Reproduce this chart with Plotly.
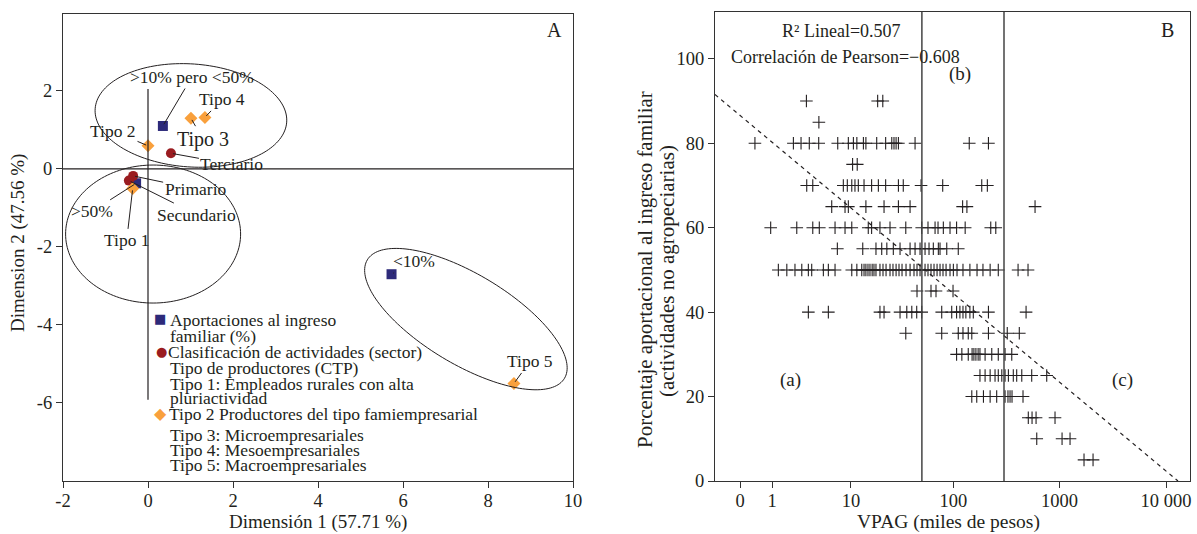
import math
import plotly.graph_objects as go

W, H = 1197, 534

# ---------------- Panel A data (correspondence analysis) ----------------
aport_names = [">10% pero <50%", ">50%", "<10%"]
aport_dim1 = [0.35, -0.28, 5.73]
aport_dim2 = [1.10, -0.37, -2.70]

sector_names = ["Terciario", "Primario", "Secundario"]
sector_dim1 = [0.54, -0.35, -0.45]
sector_dim2 = [0.40, -0.18, -0.30]

tipo_names = ["Tipo 1", "Tipo 2", "Tipo 3", "Tipo 4", "Tipo 5"]
tipo_dim1 = [-0.36, 0.0, 1.01, 1.34, 8.61]
tipo_dim2 = [-0.50, 0.59, 1.30, 1.32, -5.50]

xA_tickvals = [-2, 0, 2, 4, 6, 8, 10]
xA_ticktext = ["-2", "0", "2", "4", "6", "8", "10"]
yA_tickvals = [-6, -4, -2, 0, 2]
yA_ticktext = ["-6", "-4", "-2", "0", "2"]

legend_lines = [
    "Aportaciones al ingreso",
    "familiar (%)",
    "Clasificación de actividades (sector)",
    "Tipo de productores (CTP)",
    "Tipo 1: Empleados rurales con alta",
    "pluriactividad",
    "Tipo 2 Productores del tipo famiempresarial",
    "Tipo 3: Microempresariales",
    "Tipo 4: Mesoempresariales",
    "Tipo 5: Macroempresariales",
]

# ---------------- Panel B data (VPAG in miles de pesos, % aportación) ----------------
vpag_90 = [3.2, 18.6, 20.9]
vpag_85 = [4.5]
vpag_80 = [0.38, 2.17, 2.74, 3.47, 4.48, 7.27, 9.40, 10.6, 11.5, 13.4, 14.2, 18.2, 22.3,
           25.6, 26.9, 28.2, 29.7, 43.0, 141, 214]
vpag_75 = [10.4, 11.6]
vpag_70 = [3.23, 3.82, 8.33, 9.17, 10.2, 11.0, 11.9, 13.6, 16.2, 18.9, 22.3, 29.7, 33.1,
           49.1, 79.0, 185, 209]
vpag_65 = [6.26, 8.68, 9.40, 14.2, 21.5, 29.7, 38.5, 122, 134, 588]
vpag_60 = [0.94, 2.41, 3.82, 4.55, 6.80, 8.68, 10.2, 15.0, 16.2, 19.6, 24.6, 35.0, 49.8,
           57.2, 66.8, 71.3, 80.1, 92.7, 107, 129, 225, 251]
vpag_55 = [7.20, 13.2, 17.9, 20.4, 22.9, 26.5, 30.8, 38.5, 43.0, 48.0, 53.6, 58.5, 64.3,
           71.8, 74.5, 86.3, 111]
vpag_50 = [1.29, 1.75, 2.28, 2.80, 3.38, 3.71, 5.06, 5.75, 6.80, 10.2, 11.5, 12.9, 13.6,
           14.2, 14.9, 15.6, 16.4, 17.1, 17.9, 19.6, 21.0, 22.5, 24.6, 26.3, 28.2, 30.1,
           32.2, 35.2, 38.5, 42.0, 44.9, 48.0, 53.6, 57.2, 61.1, 65.3, 69.8, 74.5, 79.5,
           85.0, 92.7, 99.7, 108, 123, 143, 167, 190, 222, 265, 407, 505]
vpag_45 = [44.9, 61.1, 68.2, 99]
vpag_40 = [3.38, 5.75, 19.6, 21.5, 30.8, 35.8, 40.0, 44.6, 49.8, 77.3, 96.2, 107, 115,
           123, 131, 143, 154, 214, 484]
vpag_35 = [35.0, 77.3, 111, 123, 138, 149, 214, 322, 418]
vpag_30 = [107, 120, 138, 150, 156, 163, 171, 178, 199, 230, 265, 307, 355]
vpag_25 = [178, 199, 222, 247, 265, 286, 307, 330, 367, 395, 441, 547, 757]
vpag_20 = [149, 166, 192, 222, 256, 307, 327, 342, 357, 453]
vpag_15 = [508, 551, 601, 906]
vpag_10 = [610, 1055, 1254]
vpag_5 = [1697, 2063]

pct_levels = [90, 85, 80, 75, 70, 65, 60, 55, 50, 45, 40, 35, 30, 25, 20, 15, 10, 5]
vpag_by_level = [vpag_90, vpag_85, vpag_80, vpag_75, vpag_70, vpag_65, vpag_60, vpag_55,
                 vpag_50, vpag_45, vpag_40, vpag_35, vpag_30, vpag_25, vpag_20, vpag_15,
                 vpag_10, vpag_5]

fit_r2 = 0.507
pearson_r = -0.608
fit_intercept = 86.6      # % at log10(VPAG+1) = 0
fit_slope = -21.06        # % per decade of (VPAG+1)
vpag_cuts = [50, 300]

xB_tickvals_vpag = [0, 1, 10, 100, 1000, 10000]
xB_ticktext = ["0", "1", "10", "100", "1000", "10 000"]
yB_tickvals = [0, 20, 40, 60, 80, 100]

# ---------------- Layout geometry ----------------
A_left, A_right, A_top, A_bottom = 63, 573, 14, 481
B_left, B_right, B_top, B_bottom = 715, 1190, 12, 481
A_xrange = [-2, 10]
A_yrange = [-8.0, 3.97]
B_xrange_log = [-0.235, 4.225]
B_yrange = [0, 111.1]

FONT = "Liberation Serif, Times New Roman, serif"
INK = "#231f20"
NAVY = "#2d2a7a"
DRED = "#9a1c20"
ORANGE = "#f9a03c"


def px(x, y):
    return x / W, 1 - y / H


fig = go.Figure()

# Panel A markers
fig.add_trace(go.Scatter(x=aport_dim1, y=aport_dim2, mode="markers", xaxis="x", yaxis="y",
                         marker=dict(symbol="square", size=10, color=NAVY), showlegend=False))
fig.add_trace(go.Scatter(x=sector_dim1, y=sector_dim2, mode="markers", xaxis="x", yaxis="y",
                         marker=dict(symbol="circle", size=10, color=DRED), showlegend=False))
fig.add_trace(go.Scatter(x=tipo_dim1, y=tipo_dim2, mode="markers", xaxis="x", yaxis="y",
                         marker=dict(symbol="diamond", size=10, color=ORANGE), showlegend=False))

# Panel B scatter
xs, ys = [], []
for lvl, row in zip(pct_levels, vpag_by_level):
    for v in row:
        xs.append(v + 1)
        ys.append(lvl)
fig.add_trace(go.Scatter(x=xs, y=ys, mode="markers", xaxis="x2", yaxis="y2",
                         marker=dict(symbol="cross-thin", size=9, color=INK,
                                     line=dict(width=1.1, color=INK)),
                         showlegend=False))

# Regression line
L0 = B_xrange_log[0]
L1 = -fit_intercept / fit_slope
fig.add_trace(go.Scatter(x=[10 ** L0, 10 ** L1],
                         y=[fit_intercept + fit_slope * L0, fit_intercept + fit_slope * L1],
                         mode="lines", xaxis="x2", yaxis="y2",
                         line=dict(color=INK, width=1.2, dash="4px,4px"), showlegend=False))

# Cut lines
for c in vpag_cuts:
    fig.add_trace(go.Scatter(x=[c + 1, c + 1], y=B_yrange, mode="lines", xaxis="x2", yaxis="y2",
                             line=dict(color="#444", width=1.5), showlegend=False))

# ---------------- Shapes for panel A ----------------
sxA = (A_right - A_left) / (A_xrange[1] - A_xrange[0])
syA = (A_bottom - A_top) / (A_yrange[1] - A_yrange[0])


def ellipse_path(cx, cy, a_px, b_px, ang_deg, n=160):
    t = math.radians(ang_deg)
    pts = []
    for i in range(n + 1):
        u = 2 * math.pi * i / n
        dx = a_px * math.cos(u) * math.cos(t) - b_px * math.sin(u) * math.sin(t)
        dy = a_px * math.cos(u) * math.sin(t) + b_px * math.sin(u) * math.cos(t)
        pts.append((cx + dx / sxA, cy + dy / syA))
    return "M " + " L ".join(f"{x:.4f},{y:.4f}" for x, y in pts) + " Z"


shapes = [
    dict(type="line", xref="x", yref="y", x0=A_xrange[0], x1=A_xrange[1], y0=0, y1=0,
         line=dict(color=INK, width=1.2)),
    dict(type="line", xref="x", yref="y", x0=0, x1=0, y0=-5.92, y1=2.05,
         line=dict(color=INK, width=1.2)),
    dict(type="path", xref="x", yref="y", path=ellipse_path(1.01, 1.37, 96, 51.5, -4),
         line=dict(color=INK, width=1)),
    dict(type="path", xref="x", yref="y", path=ellipse_path(0.12, -1.67, 87.5, 69, 0),
         line=dict(color=INK, width=1)),
    dict(type="path", xref="x", yref="y", path=ellipse_path(7.48, -3.85, 115, 45, -31),
         line=dict(color=INK, width=1)),
]

# ---------------- Annotations ----------------
ann = []
label_offsets_aport = [(29, -49), (-44, 28), (22, -13)]
label_offsets_sector = [(61, 11), (62, 13), (68, 34)]
label_offsets_tipo = [(-6, 52), (-35, -15), (12, 21), (17, -18), (16, -22)]

for names, xs_, ys_, offs in [(aport_names, aport_dim1, aport_dim2, label_offsets_aport),
                              (sector_names, sector_dim1, sector_dim2, label_offsets_sector),
                              (tipo_names, tipo_dim1, tipo_dim2, label_offsets_tipo)]:
    for nm, x, y, (ax, ay) in zip(names, xs_, ys_, offs):
        ann.append(dict(x=x, y=y, xref="x", yref="y", text=nm, showarrow=True,
                        arrowhead=0, arrowwidth=1, arrowcolor=INK, ax=ax, ay=ay,
                        standoff=2, startstandoff=0,
                        font=dict(family=FONT, size=20 if nm == "Tipo 3" else 17.5, color=INK)))

# legend text lines
legend_pos = [(168, 320), (168, 336), (166, 352), (168, 368), (168, 384), (168, 398),
              (167, 414), (168, 435), (168, 450), (168, 465)]
for txt, (lx, ly) in zip(legend_lines, legend_pos):
    x, y = px(lx, ly)
    ann.append(dict(x=x, y=y, xref="paper", yref="paper", text=txt, showarrow=False,
                    xanchor="left", yanchor="middle",
                    font=dict(family=FONT, size=17.5, color=INK)))
# legend glyphs
for g, col, (gx, gy), sz in [("■", NAVY, (160, 318), 13), ("●", DRED, (161, 351), 13),
                             ("◆", ORANGE, (160, 413), 16)]:
    x, y = px(gx, gy)
    ann.append(dict(x=x, y=y, xref="paper", yref="paper", text=g, showarrow=False,
                    xanchor="center", yanchor="middle",
                    font=dict(family="DejaVu Sans", size=sz, color=col)))

# text labels in panels and titles
texts = [
    ("A", 554, 30, 20, 0),
    ("B", 1167, 30, 20, 0),
    (f"R² Lineal={fit_r2:.3f}", 841, 31, 18, 0),
    (f"Correlación de Pearson=−{abs(pearson_r):.3f}", 845, 57, 18, 0),
    ("(b)", 960, 74, 19, 0),
    ("(a)", 790, 380, 19, 0),
    ("(c)", 1122, 380, 19, 0),
    ("Dimensión 1 (57.71 %)", 318, 522, 19, 0),
    ("VPAG (miles de pesos)", 948, 522, 19.5, 0),
    ("Dimension 2 (47.56 %)", 18, 243, 19, -90),
    ("Porcentaje aportacional al ingreso familiar", 645, 270, 21, -90),
    ("(actividades no agropeciarias)", 667, 271, 21, -90),
]
for t, tx, ty, sz, ang in texts:
    x, y = px(tx, ty)
    ann.append(dict(x=x, y=y, xref="paper", yref="paper", text=t, showarrow=False,
                    xanchor="center", yanchor="middle", textangle=ang,
                    font=dict(family=FONT, size=sz, color=INK)))

axis_common = dict(showline=True, mirror=True, linecolor="#333", linewidth=1.3,
                   ticks="outside", ticklen=6, tickwidth=1.2, tickcolor="#333",
                   showgrid=False, zeroline=False,
                   tickfont=dict(family=FONT, size=18.5, color=INK))

fig.update_layout(
    width=W, height=H,
    margin=dict(l=0, r=0, t=0, b=0, autoexpand=False),
    paper_bgcolor="white", plot_bgcolor="white",
    showlegend=False,
    xaxis=dict(domain=[A_left / W, A_right / W], range=A_xrange, tickmode="array",
               tickvals=xA_tickvals, ticktext=xA_ticktext, anchor="y",
               ticklabelstandoff=-3, **axis_common),
    yaxis=dict(domain=[1 - A_bottom / H, 1 - A_top / H], range=A_yrange, tickmode="array",
               tickvals=yA_tickvals, ticktext=yA_ticktext, anchor="x", **axis_common),
    xaxis2=dict(domain=[B_left / W, B_right / W], type="log", range=B_xrange_log,
                tickmode="array", tickvals=[v + 1 for v in xB_tickvals_vpag],
                ticktext=xB_ticktext, anchor="y2", ticklabelstandoff=-3, **axis_common),
    yaxis2=dict(domain=[1 - B_bottom / H, 1 - B_top / H], range=B_yrange, tickmode="array",
                tickvals=yB_tickvals, ticktext=[str(v) for v in yB_tickvals], anchor="x2",
                **axis_common),
    shapes=shapes,
    annotations=ann,
)

fig.write_html("out.html", config={"displayModeBar": False},
               post_script="document.body.style.margin='0';document.body.style.overflow='hidden';")
